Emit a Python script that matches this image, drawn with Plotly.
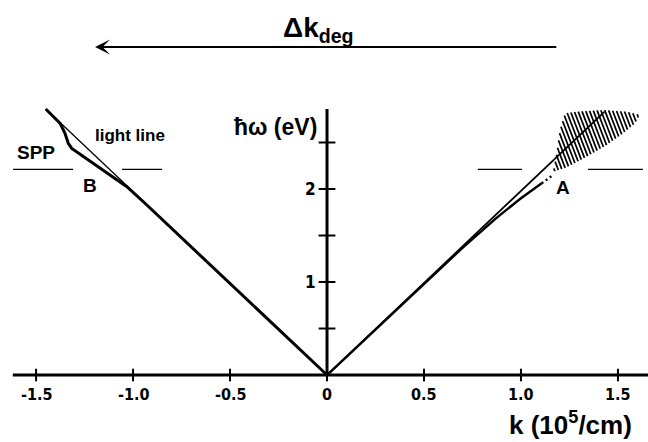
import numpy as np
import plotly.graph_objects as go

# ---- data (k in 10^5/cm, photon energy in eV) ----
# light line on both sides of k = 0
k_light_left = [0.0, -1.45]
w_light_left = [0.0, 2.86]
k_light_right = [0.0, 1.43]
w_light_right = [0.0, 2.83]

# SPP branch B (negative k)
k_B = [0.0, -0.50, -0.929, -1.032, -1.119, -1.205, -1.273, -1.316, -1.334,
       -1.351, -1.376, -1.393, -1.45]
w_B = [0.0, 0.987, 1.828, 2.025, 2.151, 2.276, 2.366, 2.437, 2.491,
       2.599, 2.706, 2.742, 2.86]

# branch A (positive k): solid part and broken continuation
k_A = [0.0, 0.40, 0.70, 0.871, 1.00, 1.107]
w_A = [0.0, 0.787, 1.37, 1.685, 1.90, 2.061]
k_A_broken = [1.107, 1.165]
w_A_broken = [2.061, 2.150]

# hatched region around the upper right light line
k_hatch = [1.166, 1.184, 1.201, 1.227, 1.287, 1.424, 1.545, 1.613, 1.588,
           1.527, 1.442, 1.339, 1.236]
w_hatch = [2.186, 2.384, 2.634, 2.814, 2.831, 2.849, 2.831, 2.796, 2.706,
           2.599, 2.473, 2.347, 2.233]

# surface plasmon energy marks
w_sp = 2.21
k_sp_segments = [(-1.619, -1.309), (-1.057, -0.851), (0.778, 1.005), (1.345, 1.629)]

# axes
x_ticks = [-1.5, -1.0, -0.5, 0.0, 0.5, 1.0, 1.5]
x_tick_text = ["-1.5", "-1.0", "-0.5", "0", "0.5", "1.0", "1.5"]
y_ticks = [0.5, 1.0, 1.5, 2.0, 2.5]
y_labeled = [1, 2]
x_axis_span = [-1.62, 1.66]
y_axis_top = 2.86

# arrow for Delta k_deg
arrow_from_k, arrow_to_k, arrow_w = 1.19, -1.196, 3.527

FONT = "DejaVu Sans Condensed, Liberation Sans Narrow, Liberation Sans, Arial, sans-serif"
FONT_WIDE = "Liberation Sans, Arial, sans-serif"
INK = "black"


def hatch_segments(kp, wp, sx=194.0, sy=93.0, spacing=3.6, slope=2.6):
    """Clip a family of parallel lines to the polygon (done in screen-like units)."""
    P = np.column_stack([np.asarray(kp) * sx, np.asarray(wp) * sy])
    d = np.array([1.0, -slope]); d /= np.linalg.norm(d)
    n = np.array([-d[1], d[0]])
    proj = P @ n
    xs, ys = [], []
    for c in np.arange(proj.min() + spacing / 2, proj.max(), spacing):
        pts = []
        for i in range(len(P)):
            p0, p1 = P[i], P[(i + 1) % len(P)]
            d0, d1 = p0 @ n - c, p1 @ n - c
            if d0 * d1 < 0:
                t = d0 / (d0 - d1)
                pts.append(p0 + t * (p1 - p0))
        pts.sort(key=lambda p: p @ d)
        for a, b in zip(pts[0::2], pts[1::2]):
            xs += [a[0] / sx, b[0] / sx, None]
            ys += [a[1] / sy, b[1] / sy, None]
    return xs, ys


fig = go.Figure()

def line(x, y, width, dash="solid"):
    fig.add_trace(go.Scatter(x=x, y=y, mode="lines", hoverinfo="skip",
                             line=dict(color=INK, width=width, dash=dash)))

# hatched area
hx, hy = hatch_segments(k_hatch, w_hatch)
line(hx, hy, 1.7)

# axes
line(x_axis_span, [0, 0], 3)
line([0, 0], [0, y_axis_top], 3)
fig.add_trace(go.Scatter(x=x_ticks, y=[0] * len(x_ticks), mode="markers", hoverinfo="skip",
                         marker=dict(symbol="line-ns", size=9, line=dict(color=INK, width=2))))
fig.add_trace(go.Scatter(x=[0] * len(y_ticks), y=y_ticks, mode="markers", hoverinfo="skip",
                         marker=dict(symbol="line-ew", size=12, line=dict(color=INK, width=2))))

# dispersion curves
line(k_light_left, w_light_left, 1.3)
line(k_light_right, w_light_right, 1.8)
line(k_B, w_B, 3)
line(k_A, w_A, 2.4)
line(k_A_broken, w_A_broken, 2.4, dash="2px,3px")

# SPP energy marks
for a, b in k_sp_segments:
    line([a, b], [w_sp, w_sp], 1.3)

annotations = []

def text(x, y, s, size, family=FONT, xanchor="center"):
    annotations.append(dict(x=x, y=y, xref="x", yref="y", text=s, showarrow=False,
                            xanchor=xanchor, yanchor="middle",
                            font=dict(family=family, size=size, color=INK, weight=700)))

for v, s in zip(x_ticks, x_tick_text):
    text(v, -0.205, s, 16)
for v in y_labeled:
    text(-0.045, v, str(v), 17, xanchor="right")

text(1.253, -0.52, "k (10<sup>5</sup>/cm)", 26, family=FONT_WIDE)
text(-0.268, 2.67, "ħω (eV)", 23, family=FONT_WIDE)
text(-1.50, 2.39, "SPP", 19, family=FONT_WIDE)
text(-1.015, 2.58, "light line", 17, family=FONT_WIDE)
text(-1.222, 2.04, "B", 19, family=FONT_WIDE)
text(1.216, 2.02, "A", 19, family=FONT_WIDE)
text(-0.045, 3.71, "Δk<sub>deg</sub>", 28, family=FONT_WIDE)

annotations.append(dict(x=arrow_to_k, y=arrow_w, ax=arrow_from_k, ay=arrow_w,
                        xref="x", yref="y", axref="x", ayref="y", text="",
                        showarrow=True, arrowhead=3, arrowsize=1.25, arrowwidth=2,
                        arrowcolor=INK, standoff=0))

fig.update_layout(
    width=648, height=442,
    margin=dict(l=0, r=0, t=0, b=0),
    paper_bgcolor="white", plot_bgcolor="white",
    showlegend=False,
    xaxis=dict(visible=False, range=[-1.686, 1.655], fixedrange=True),
    yaxis=dict(visible=False, range=[-0.720, 4.032], fixedrange=True),
    annotations=annotations,
)

fig.write_html("out.html")
